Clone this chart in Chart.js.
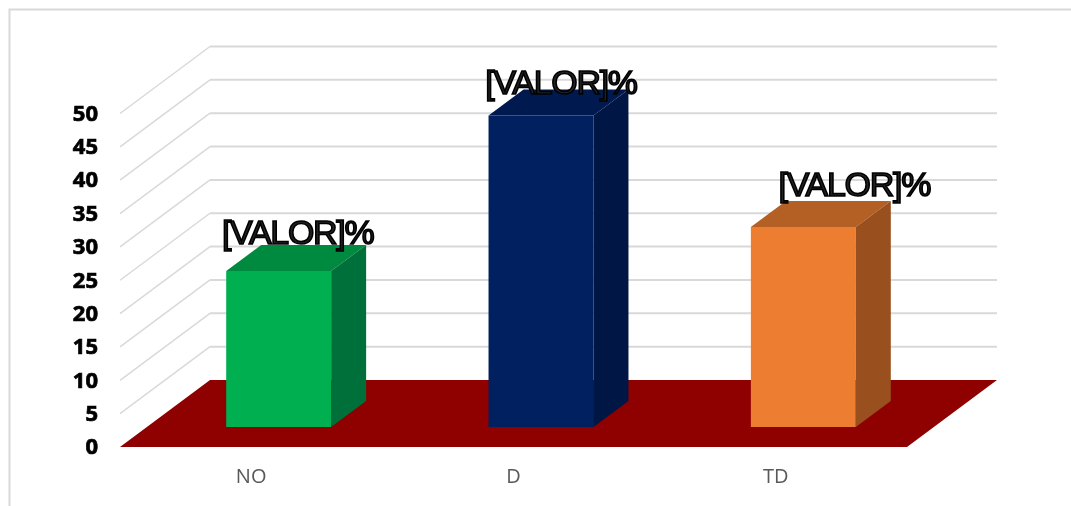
<!DOCTYPE html>
<html>
<head>
<meta charset="utf-8">
<style>
    body { margin: 0; background: #fff; }
    canvas { display: block; }
</style>
<script src="https://cdn.jsdelivr.net/npm/chart.js@4"></script>
</head>
<body>
<canvas id="chart" width="1071" height="506"></canvas>
<script>
// Data
var categories = ['NO', 'D', 'TD'];
var values = [23.4, 46.7, 30];
var valueLabels = ['[VALOR]%', '[VALOR]%', '[VALOR]%'];
var yTicks = [0, 5, 10, 15, 20, 25, 30, 35, 40, 45, 50];

// Bar colours: front, top, side
var frontColors = ['#00B050', '#002060', '#ED7D31'];
var topColors = ['#008A3F', '#001A50', '#B45F24'];
var sideColors = ['#00703A', '#001644', '#99501E'];

// The scales sit on the plane of the bars, the floor runs in front of and behind it
var FRONT = { x: -27.5, y: 20 };
var BACK = { x: 62.5, y: -47 };
var BAR_DEPTH = { x: 35, y: -26 };
var GRID_COLOR = '#d9d9d9';
var FLOOR_COLOR = '#8f0000';

// Label nudges from the top of each bar
var labelNudge = [{ x: 19, y: -36 }, { x: 20, y: -31 }, { x: 51, y: -40 }];

function poly(ctx, pts, color) {
    ctx.fillStyle = color;
    ctx.beginPath();
    ctx.moveTo(pts[0][0], pts[0][1]);
    for (var i = 1; i < pts.length; i++) {
        ctx.lineTo(pts[i][0], pts[i][1]);
    }
    ctx.closePath();
    ctx.fill();
}

var scene3d = {
    id: 'scene3d',
    beforeDatasetsDraw: function (chart) {
        var ctx = chart.ctx;
        var xs = chart.scales.x;
        var ys = chart.scales.y;
        var left = xs.left, right = xs.right;

        // Chart frame
        ctx.save();
        ctx.strokeStyle = GRID_COLOR;
        ctx.lineWidth = 2;
        ctx.beginPath();
        ctx.moveTo(9.5, 506);
        ctx.lineTo(9.5, 9.5);
        ctx.lineTo(1071, 9.5);
        ctx.stroke();

        // Grid on the side wall and back wall
        yTicks.forEach(function (t) {
            if (t === 0) return;
            var py = ys.getPixelForValue(t);
            ctx.lineWidth = 1.5;
            ctx.beginPath();
            ctx.moveTo(left + FRONT.x, py + FRONT.y);
            ctx.lineTo(left + BACK.x, py + BACK.y);
            ctx.stroke();
            ctx.lineWidth = 2;
            ctx.beginPath();
            ctx.moveTo(left + BACK.x, py + BACK.y);
            ctx.lineTo(right + BACK.x, py + BACK.y);
            ctx.stroke();
        });

        // Floor
        var p0 = ys.getPixelForValue(0);
        poly(ctx, [
            [left + FRONT.x, p0 + FRONT.y],
            [left + BACK.x, p0 + BACK.y],
            [right + BACK.x, p0 + BACK.y],
            [right + FRONT.x, p0 + FRONT.y]
        ], FLOOR_COLOR);
        ctx.restore();
    },
    afterDatasetsDraw: function (chart) {
        var ctx = chart.ctx;
        var bars = chart.getDatasetMeta(0).data;
        ctx.save();
        bars.forEach(function (bar, i) {
            var l = bar.x - bar.width / 2;
            var r = bar.x + bar.width / 2;
            var dx = BAR_DEPTH.x, dy = BAR_DEPTH.y;
            poly(ctx, [[l, bar.y], [l + dx, bar.y + dy], [r + dx, bar.y + dy], [r, bar.y]], topColors[i]);
            poly(ctx, [[r, bar.y], [r + dx, bar.y + dy], [r + dx, bar.base + dy], [r, bar.base]], sideColors[i]);
        });

        // Value labels
        ctx.font = '34px "Liberation Sans"';
        ctx.letterSpacing = '-1.3px';
        ctx.textAlign = 'center';
        ctx.textBaseline = 'middle';
        ctx.lineWidth = 1.6;
        ctx.strokeStyle = '#000';
        ctx.fillStyle = '#222';
        bars.forEach(function (bar, i) {
            var lx = bar.x + labelNudge[i].x;
            var ly = bar.y + labelNudge[i].y;
            ctx.fillText(valueLabels[i], lx, ly);
            ctx.strokeText(valueLabels[i], lx, ly);
        });
        ctx.restore();
    }
};

var ctx = document.getElementById('chart').getContext('2d');
var chart = new Chart(ctx, {
    type: 'bar',
    data: {
        labels: categories,
        datasets: [{
            data: values,
            backgroundColor: frontColors,
            borderWidth: 0,
            barPercentage: 0.4,
            categoryPercentage: 1
        }]
    },
    options: {
        responsive: false,
        animation: false,
        layout: { padding: { left: 0, top: 93.5, right: 136.5, bottom: 0 } },
        plugins: { legend: { display: false }, tooltip: { enabled: false } },
        scales: {
            x: {
                grid: { display: false, drawTicks: false },
                border: { display: false },
                afterFit: function (scale) { scale.height = 79; },
                ticks: {
                    labelOffset: FRONT.x,
                    padding: 38,
                    color: '#595959',
                    maxRotation: 0,
                    font: { family: '"Open Sans"', size: 20 }
                }
            },
            y: {
                min: 0,
                max: 50,
                grid: { display: false, drawTicks: false },
                border: { display: false },
                afterFit: function (scale) { scale.width = 147.5; },
                afterBuildTicks: function (scale) {
                    scale.ticks = yTicks.map(function (t) { return { value: t }; });
                },
                ticks: {
                    labelOffset: FRONT.y + 1,
                    padding: 49.5,
                    color: '#000',
                    textStrokeColor: '#000',
                    textStrokeWidth: 0.7,
                    font: { family: '"Noto Sans"', size: 22, weight: 'bold' }
                }
            }
        }
    },
    plugins: [scene3d]
});
</script>
</body>
</html>
